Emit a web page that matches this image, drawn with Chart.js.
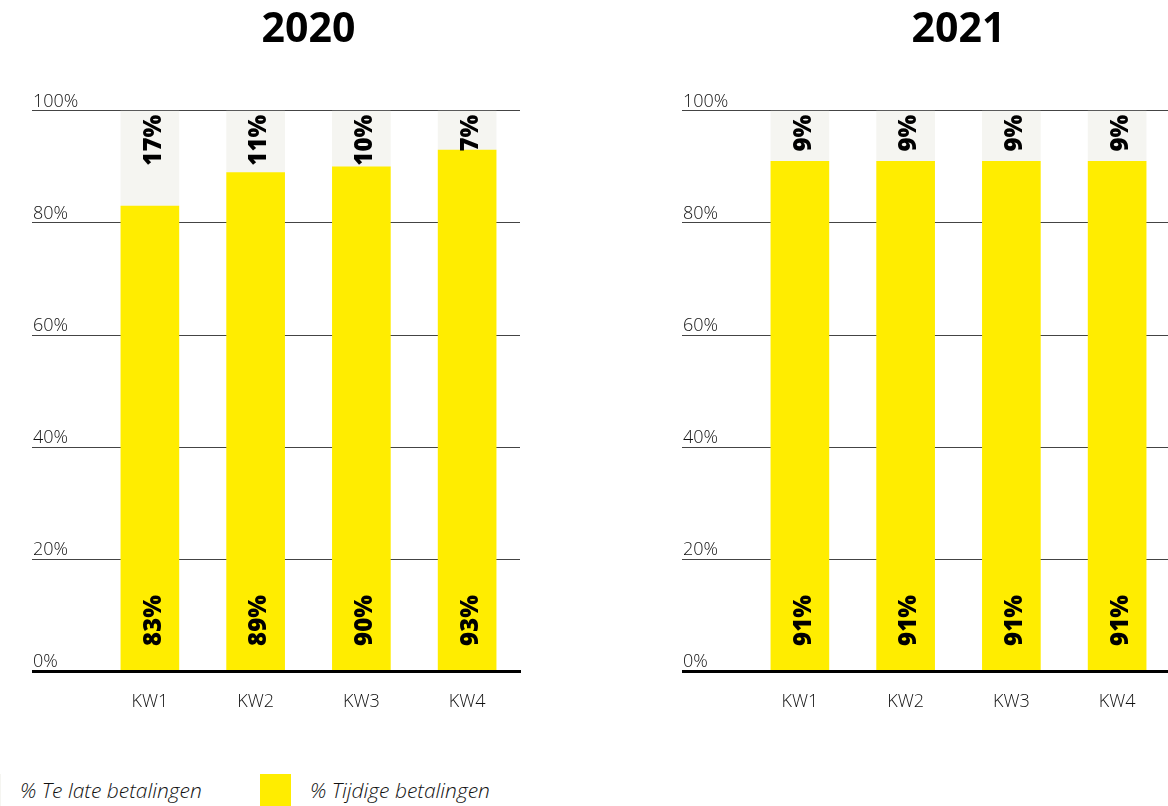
<!DOCTYPE html>
<html>
<head>
<meta charset="utf-8">
<script src="https://cdn.jsdelivr.net/npm/chart.js@4.4.1/dist/chart.umd.min.js"></script>
<style>
  html, body { margin: 0; padding: 0; background: #fff; }
  body { width: 1168px; height: 806px; overflow: hidden; position: relative; font-family: "Open Sans", sans-serif; }
  .box { position: absolute; top: 0; width: 650px; height: 733px; }
  #legend { position: absolute; top: 774px; left: 0; width: 1168px; height: 40px; }
  .item { position: absolute; top: 0; display: flex; align-items: center; height: 32px; }
  .swatch { width: 31px; height: 32px; margin-right: 19px; }
  .item span { font-style: italic; font-weight: 300; font-size: 21px; color: #111; white-space: nowrap; }
</style>
</head>
<body>
<div class="box" style="left:0"><canvas id="chart2020"></canvas></div>
<div class="box" style="left:650px"><canvas id="chart2021"></canvas></div>
<div id="legend"></div>
<script>
// data
const categories = ["KW1", "KW2", "KW3", "KW4"];
const years = ["2020", "2021"];
const tijdige2020 = [83, 89, 90, 93];
const late2020 = [17, 11, 10, 7];
const tijdige2021 = [91, 91, 91, 91];
const late2021 = [9, 9, 9, 9];
const yTicks = [0, 20, 40, 60, 80, 100];

const seriesNames = ["% Tijdige betalingen", "% Te late betalingen"];
const seriesColors = ["#FFED00", "#F5F5F1"];

// percentage labels inside the bars, rotated
const barLabels = {
    id: "barLabels",
    afterDatasetsDraw(chart) {
        const ctx = chart.ctx;
        ctx.save();
        ctx.fillStyle = "#000";
        ctx.font = "800 24px 'Open Sans'";
        ctx.textBaseline = "middle";
        chart.data.datasets.forEach((ds, i) => {
            chart.getDatasetMeta(i).data.forEach((bar, j) => {
                const txt = ds.data[j] + "%";
                ctx.save();
                if (i === 0) {
                    ctx.translate(bar.x + 4, bar.base - 24);
                    ctx.rotate(-Math.PI / 2);
                    ctx.textAlign = "left";
                } else {
                    ctx.translate(bar.x + 4, bar.y + 4);
                    ctx.rotate(-Math.PI / 2);
                    ctx.textAlign = "right";
                }
                ctx.fillText(txt, 0, 0);
                ctx.restore();
            });
        });
        ctx.restore();
    }
};

// y tick labels sit above the grid line, at the far left of the tick mark
const yLabels = {
    id: "yLabels",
    afterDraw(chart) {
        const ctx = chart.ctx;
        const y = chart.scales.y;
        ctx.save();
        ctx.fillStyle = "#111";
        ctx.font = "300 18px 'Open Sans'";
        ctx.textAlign = "left";
        ctx.textBaseline = "alphabetic";
        yTicks.forEach(v => {
            ctx.fillText(v + "%", y.left + 1, y.getPixelForValue(v) - 4);
        });
        ctx.restore();
    }
};

function makeChart(id, year, tijdige, late) {
    return new Chart(document.getElementById(id), {
        type: "bar",
        data: {
            labels: categories,
            datasets: [
                { label: seriesNames[0], data: tijdige, backgroundColor: seriesColors[0], barThickness: 58 },
                { label: seriesNames[1], data: late, backgroundColor: seriesColors[1], barThickness: 58 }
            ]
        },
        options: {
            responsive: true,
            maintainAspectRatio: false,
            animation: false,
            layout: { padding: { left: 32, right: 130, top: 0, bottom: 0 } },
            plugins: {
                legend: { display: false },
                tooltip: { enabled: false },
                title: {
                    display: true,
                    text: year,
                    fullSize: false,
                    color: "#000",
                    font: { family: "'Open Sans'", size: 41, weight: 700 },
                    padding: { top: 6, bottom: 55.6 }
                }
            },
            scales: {
                x: {
                    stacked: true,
                    grid: { display: false, drawTicks: false },
                    border: { display: true, color: "#000", width: 3, z: 1 },
                    ticks: { color: "#111", padding: 20, font: { family: "'Open Sans'", size: 18, weight: 300 } }
                },
                y: {
                    stacked: true,
                    min: 0,
                    max: 100,
                    ticks: { display: false, stepSize: 20 },
                    border: { display: false },
                    grid: {
                        drawTicks: true,
                        tickLength: 65,
                        color: c => c.tick && c.tick.value === 0 ? "#000" : "#444",
                        lineWidth: c => c.tick && c.tick.value === 0 ? 3 : 1
                    }
                }
            }
        },
        plugins: [barLabels, yLabels]
    });
}

makeChart("chart2020", years[0], tijdige2020, late2020);
makeChart("chart2021", years[1], tijdige2021, late2021);

// legend: late first, then on time
const legend = document.getElementById("legend");
const legendOrder = [1, 0];
const legendLeft = [-30, 260];
legendOrder.forEach((s, k) => {
    const item = document.createElement("div");
    item.className = "item";
    item.style.left = legendLeft[k] + "px";
    item.innerHTML = '<div class="swatch" style="background:' + seriesColors[s] + '"></div><span>' + seriesNames[s] + '</span>';
    legend.appendChild(item);
});
</script>
</body>
</html>
